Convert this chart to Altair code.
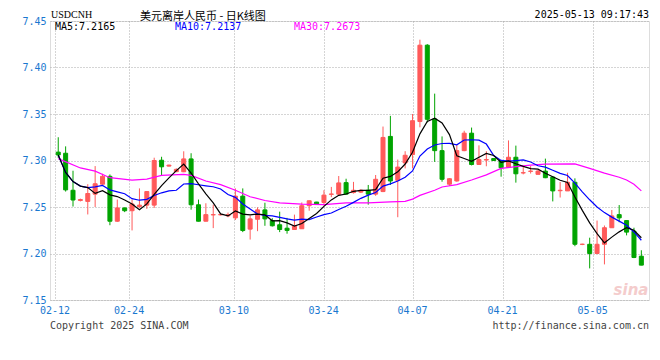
import altair as alt
import pandas as pd

# ---- candle data (index order, 80 sessions) ----
opens = [7.309, 7.3078, 7.268, 7.257, 7.256, 7.2638, 7.2745, 7.283, 7.2347, 7.249,
         7.246, 7.2505, 7.252, 7.252, 7.3003, 7.294, 7.288, 7.2879, 7.3017, 7.2524,
         7.2347, 7.2415, 7.2415, 7.2405, 7.2383, 7.2617, 7.2262, 7.2368, 7.2469, 7.2354,
         7.2309, 7.2272, 7.2258, 7.2266, 7.2514, 7.2553, 7.2549, 7.2636, 7.2638, 7.2762,
         7.2655, 7.266, 7.268, 7.2638, 7.2666, 7.3259, 7.2787, 7.2974, 7.3064, 7.3419,
         7.424, 7.3447, 7.3106, 7.2745, 7.278, 7.3106, 7.3294, 7.2957, 7.3005, 7.3021,
         7.30, 7.2929, 7.3035, 7.2866, 7.2883, 7.2851, 7.2886, 7.2822, 7.2675, 7.2673,
         7.2766, 7.2098, 7.2099, 7.20, 7.2099, 7.2277, 7.2418, 7.2354, 7.224, 7.1971]
highs = [7.325, 7.3152, 7.289, 7.259, 7.2745, 7.294, 7.2857, 7.285, 7.258, 7.2495,
         7.258, 7.27, 7.267, 7.303, 7.304, 7.2955, 7.2915, 7.3099, 7.3078, 7.258,
         7.254, 7.2524, 7.2425, 7.244, 7.27, 7.27, 7.2407, 7.2496, 7.2546, 7.238,
         7.245, 7.2383, 7.2418, 7.2549, 7.257, 7.2555, 7.268, 7.2716, 7.2833, 7.2804,
         7.277, 7.269, 7.2737, 7.2844, 7.3365, 7.348, 7.301, 7.31, 7.35, 7.4299,
         7.4251, 7.3719, 7.3259, 7.281, 7.317, 7.332, 7.3354, 7.3163, 7.31, 7.3025,
         7.3005, 7.3216, 7.316, 7.2947, 7.294, 7.29, 7.302, 7.2825, 7.2769, 7.2868,
         7.2808, 7.2105, 7.217, 7.2354, 7.2301, 7.2468, 7.2521, 7.2355, 7.2277, 7.2035]
lows = [7.303, 7.2666, 7.2505, 7.256, 7.242, 7.25, 7.274, 7.2304, 7.234, 7.2445,
        7.2248, 7.249, 7.248, 7.249, 7.284, 7.2935, 7.2875, 7.2875, 7.2471, 7.2345,
        7.2345, 7.2273, 7.241, 7.239, 7.236, 7.223, 7.215, 7.224, 7.2298, 7.229,
        7.223, 7.2213, 7.2255, 7.2264, 7.246, 7.253, 7.2514, 7.2606, 7.263, 7.2636,
        7.2645, 7.265, 7.2525, 7.262, 7.266, 7.2737, 7.239, 7.2915, 7.2915, 7.3357,
        7.341, 7.2985, 7.2772, 7.2726, 7.2772, 7.31, 7.2947, 7.2957, 7.2938, 7.2995,
        7.2826, 7.2925, 7.2762, 7.2851, 7.286, 7.285, 7.281, 7.256, 7.2602, 7.2673,
        7.2078, 7.209, 7.184, 7.1995, 7.1883, 7.2277, 7.2336, 7.2195, 7.195, 7.1873]
closes = [7.306, 7.2684, 7.2575, 7.258, 7.2645, 7.275, 7.283, 7.2347, 7.249, 7.246,
          7.2532, 7.252, 7.2666, 7.300, 7.2932, 7.295, 7.2905, 7.3017, 7.2524, 7.2347,
          7.2418, 7.2418, 7.242, 7.2417, 7.2617, 7.2247, 7.2372, 7.2469, 7.2372, 7.2298,
          7.2258, 7.2248, 7.2294, 7.2514, 7.2567, 7.2532, 7.2628, 7.2640, 7.2759, 7.2638,
          7.268, 7.268, 7.2638, 7.2798, 7.3248, 7.278, 7.2929, 7.3056, 7.3428, 7.424,
          7.3443, 7.3106, 7.2798, 7.2804, 7.3106, 7.3294, 7.2957, 7.301, 7.301, 7.30,
          7.2921, 7.3035, 7.2857, 7.2869, 7.2886, 7.2886, 7.2815, 7.2673, 7.268, 7.2766,
          7.2099, 7.21, 7.20, 7.2099, 7.2277, 7.2404, 7.2383, 7.223, 7.1957, 7.1875]

# MA30 at these session indices
ma30_idx = [0, 3, 5, 7, 10, 12, 14, 17, 18, 20, 22, 24, 26, 28, 30, 33, 36, 39, 42, 45,
            47, 48, 49, 51, 52, 54, 56, 58, 60, 62, 64, 66, 70, 72, 74, 76, 77, 78, 79]
ma30_val = [7.302, 7.292, 7.2886, 7.2815, 7.279, 7.280, 7.284, 7.285, 7.284, 7.278,
            7.274, 7.268, 7.261, 7.257, 7.2545, 7.253, 7.2525, 7.2545, 7.2545, 7.2555,
            7.256, 7.2585, 7.2625, 7.268, 7.2715, 7.274, 7.279, 7.2845, 7.2915, 7.2935,
            7.295, 7.2962, 7.2963, 7.2915, 7.2865, 7.282, 7.279, 7.2745, 7.2673]

# date axis labels and their session positions
date_labels = ["02-12", "02-24", "03-10", "03-24", "04-07", "04-21", "05-05"]
date_pos = [-0.44, 9.6, 23.8, 35.95, 48.0, 60.2, 72.4]
y_ticks = [7.15, 7.20, 7.25, 7.30, 7.35, 7.40, 7.45]

title_text = "美元离岸人民币 - 日K线图"
symbol_text = "USDCNH"
stamp_text = "2025-05-13 09:17:43"
legend_texts = ["MA5:7.2165", "MA10:7.2137", "MA30:7.2673"]
copyright_text = "Copyright 2025 SINA.COM"
url_text = "http://finance.sina.com.cn"

RED = "#ff5a5a"
GREEN = "#00a400"
BLUE_LBL = "#1a78d0"
MONO = "DejaVu Sans Mono"
W, H = 599, 279

df = pd.DataFrame({"i": list(range(len(opens))), "open": opens, "high": highs,
                   "low": lows, "close": closes})
ma30_df = pd.DataFrame({"i": ma30_idx, "v": ma30_val})

xs = alt.Scale(domain=[-0.44, 79.36], nice=False, zero=False)
ys = alt.Scale(domain=[7.15, 7.45], nice=False, zero=False)

base = alt.Chart(df)
col = alt.condition("datum.close >= datum.open", alt.value(RED), alt.value(GREEN))

grid_x = alt.Axis(values=date_pos, labels=False, ticks=False, domain=False, grid=True,
                  gridColor="#aaaaaa", gridDash=[1, 2], gridWidth=1, title=None)
grid_y = alt.Axis(values=y_ticks, format=".2f", labelColor=BLUE_LBL, labelFont=MONO,
                  labelFontSize=10, ticks=False, domain=False, grid=True,
                  gridColor="#aaaaaa", gridDash=[1, 2], gridWidth=1, labelPadding=4,
                  title=None)

wicks = base.mark_rule(strokeWidth=1).encode(
    x=alt.X("i:Q", scale=xs, axis=grid_x),
    y=alt.Y("low:Q", scale=ys, axis=grid_y),
    y2="high:Q",
    color=col,
)
bodies = base.mark_bar(size=4, strokeWidth=1).encode(
    x=alt.X("i:Q", scale=xs),
    y=alt.Y("open:Q", scale=ys),
    y2="close:Q",
    color=col,
    stroke=col,
)
ma5 = base.transform_window(m="mean(close)", frame=[-4, 0], sort=[alt.SortField("i")]).mark_line(
    color="#000000", strokeWidth=1.2).encode(x=alt.X("i:Q", scale=xs), y=alt.Y("m:Q", scale=ys))
ma10 = base.transform_window(m="mean(close)", frame=[-9, 0], sort=[alt.SortField("i")]).mark_line(
    color="#0000ff", strokeWidth=1.2).encode(x=alt.X("i:Q", scale=xs), y=alt.Y("m:Q", scale=ys))
ma30 = alt.Chart(ma30_df).mark_line(color="#ff00ff", strokeWidth=1.2).encode(
    x=alt.X("i:Q", scale=xs), y=alt.Y("v:Q", scale=ys))

date_df = pd.DataFrame({"pos": date_pos, "lab": date_labels})
date_text = alt.Chart(date_df).mark_text(font=MONO, fontSize=10, color=BLUE_LBL,
                                          baseline="middle", align="center").encode(
    x=alt.X("pos:Q", scale=xs), y=alt.value(H + 11), text="lab:N")


def label(txt, x, y, color="#000000", align="left", font=MONO, size=10,
          baseline="middle", **kw):
    return alt.Chart(pd.DataFrame({"t": [txt]})).mark_text(
        font=font, fontSize=size, color=color, align=align, baseline=baseline, **kw
    ).encode(x=alt.value(x), y=alt.value(y), text="t:N")


texts = [
    label(title_text, 90, -4.5, font="Noto Sans CJK SC", size=11),
    label(symbol_text, 1, -6, font="Liberation Serif", size=10),
    label(stamp_text, W, -6, align="right"),
    label(legend_texts[0], 5, 6, color="#000000"),
    label(legend_texts[1], 125, 6, color="#0000ff"),
    label(legend_texts[2], 244, 6, color="#ff00ff"),
    label(copyright_text, 0, H + 26, color="#444444"),
    label(url_text, W, H + 26, color="#444444", align="right"),
    label("sina", W - 18, H - 10, color="#f4cccc", align="center", font="DejaVu Sans",
          size=15, fontStyle="italic", fontWeight="bold"),
]

chart = alt.layer(wicks, bodies, ma30, ma10, ma5, date_text, *texts).properties(
    width=W, height=H,
    padding={"left": 42, "top": 13, "right": 3, "bottom": 40},
    autosize="none",
).configure_view(stroke="#999999", strokeWidth=1).configure(background="#ffffff")

chart.save("out.html", embed_options={"renderer": "svg", "actions": False})
